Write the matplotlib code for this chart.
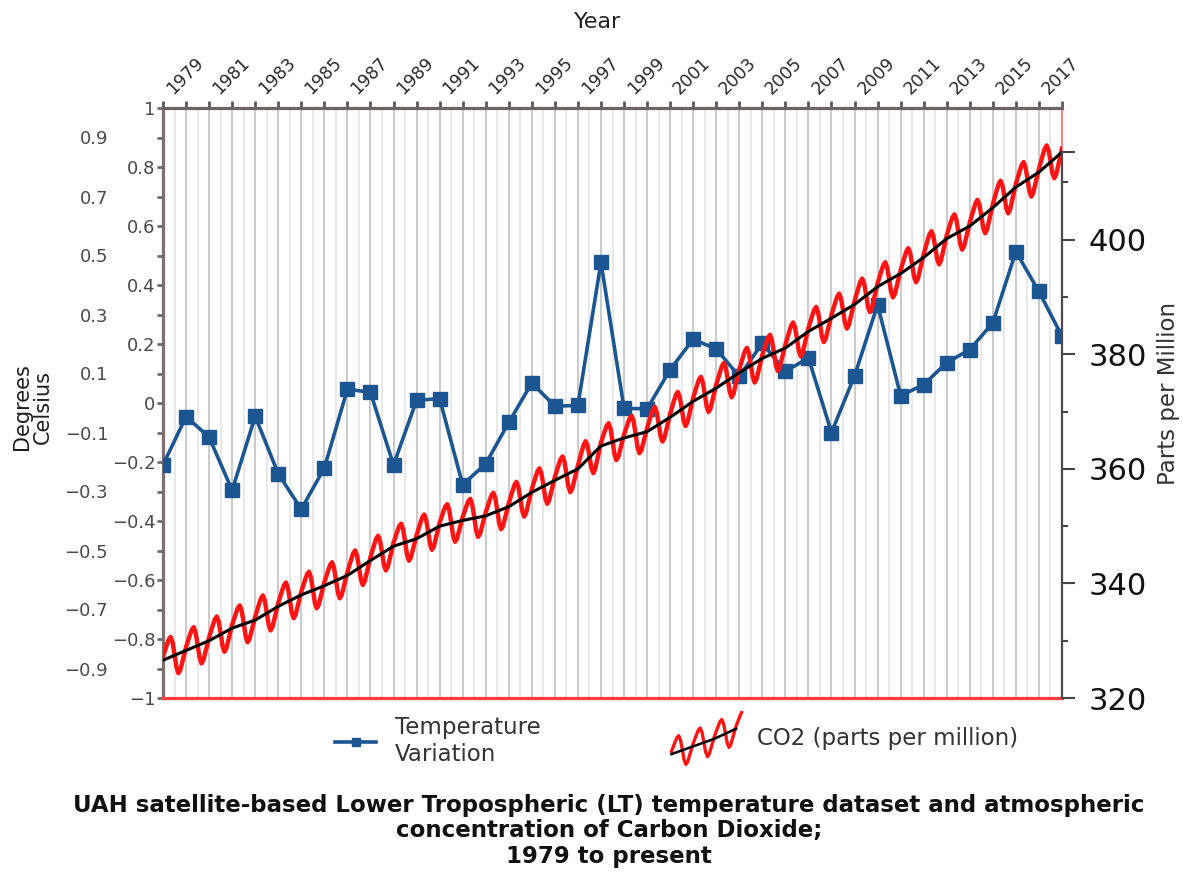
import matplotlib
matplotlib.use('Agg')
import matplotlib.pyplot as plt
import numpy as np

# values
years = np.arange(1979, 2019)
temp_anomaly = [-0.21, -0.046, -0.116, -0.296, -0.045, -0.24, -0.36, -0.22, 0.047, 0.036,
                -0.21, 0.009, 0.015, -0.277, -0.206, -0.066, 0.068, -0.011, -0.008, 0.477,
                -0.018, -0.02, 0.113, 0.216, 0.183, 0.09, 0.203, 0.107, 0.153, -0.10,
                0.092, 0.333, 0.025, 0.062, 0.137, 0.181, 0.272, 0.513, 0.378, 0.226]
co2_trend = [326.6, 328.3, 330.0, 332.2, 333.6, 336.0, 338.0, 339.6, 341.4, 344.0,
             346.5, 347.8, 350.0, 351.0, 351.8, 353.4, 355.9, 358.0, 360.0, 364.0,
             365.4, 366.5, 369.0, 371.8, 374.1, 376.8, 379.3, 381.1, 384.0, 386.3,
             388.7, 391.8, 394.1, 396.9, 400.2, 402.4, 405.6, 409.2, 411.8, 415.3]
# seasonal swing around the trend, Jan..Dec
co2_seasonal = [0.6, 1.5, 2.4, 3.2, 3.5, 2.4, 0.2, -2.2, -3.4, -3.0, -1.8, -0.6]
temp_yticks = [-1, -0.9, -0.8, -0.7, -0.6, -0.5, -0.4, -0.3, -0.2, -0.1, 0,
               0.1, 0.2, 0.3, 0.4, 0.5, 0.6, 0.7, 0.8, 0.9, 1]
ppm_major = [320, 340, 360, 380, 400]
ppm_minor = [330, 350, 370, 390, 410]

month_x = years[0] + np.arange((len(years) - 1) * 12 + 1) / 12
co2_month = np.interp(month_x, years, co2_trend) + np.array(co2_seasonal)[np.arange(len(month_x)) % 12]

W, H = 1183, 876
fig = plt.figure(figsize=(W / 100, H / 100), dpi=100)
ax = fig.add_axes([163 / W, 1 - 698 / H, 899 / W, 590 / H])
ax2 = ax.twinx()

temp_line, = ax.plot(years, temp_anomaly, color='#1b5592', lw=2.6, marker='s', ms=9.5, zorder=3)
ax.set_xlim(years[0], years[-1])
ax.set_ylim(-1, 1)

# year grid + half-year grid
ax.xaxis.tick_top()
ax.set_xticks(years)
ax.set_xticks(years[:-1] + 0.5, minor=True)
ax.grid(which='major', axis='x', color='#c6c6c6', lw=1.3)
ax.grid(which='minor', axis='x', color='#e2e2e2', lw=1.1)
ax.set_xticklabels([str(y) if (y - years[0]) % 2 == 0 else '' for y in years],
                   rotation=45, ha='left', fontsize=12.5, color='#2a2a2a')
ax.tick_params(axis='x', which='major', top=True, bottom=False, length=5, width=2, color='#5a5a5a', pad=2)
ax.tick_params(axis='x', which='minor', top=False, bottom=False)

ax.set_yticks(temp_yticks)
ax.set_yticklabels([f'{v:g}'.replace('-', '\u2212') for v in temp_yticks])
ax.tick_params(axis='y', length=4.5, width=2, color='#6b6b6b', labelsize=13, labelcolor='#4a4a4a')
for i, t in enumerate(ax.yaxis.get_major_ticks()):
    t.set_pad(35 if i % 2 else 1)

ax.spines['left'].set_color('#7d6f6f')
ax.spines['left'].set_linewidth(2.3)
ax.spines['top'].set_color('#6f6464')
ax.spines['top'].set_linewidth(2.3)
ax.spines['bottom'].set_color('#ff3b3b')
ax.spines['bottom'].set_linewidth(2.3)
ax.spines['right'].set_color('#ff7070')
ax.spines['right'].set_linewidth(1.2)

# CO2 on the right axis
ax2.plot(month_x, co2_month, color='#ff1414', lw=3.2)
ax2.plot(years, co2_trend, color='black', lw=2.2)
ax2.set_ylim(320, 423)
for s in ['left', 'top', 'bottom']:
    ax2.spines[s].set_visible(False)
ax2.spines['right'].set_color('#4a4a4a')
ax2.spines['right'].set_linewidth(1.6)
ax2.spines['right'].set_bounds(320, co2_trend[-1])
ax2.set_yticks(ppm_major + [co2_trend[-1]])
ax2.set_yticklabels([str(v) for v in ppm_major] + [''])
ax2.set_yticks(ppm_minor, minor=True)
ax2.tick_params(axis='y', which='major', length=9, width=1.5, color='#444444', labelsize=22,
                labelcolor='#111111', pad=10)
ax2.tick_params(axis='y', which='minor', length=4, width=1.5, color='#444444')

fig.text(598 / W, 1 - 22 / H, 'Year', ha='center', va='center', fontsize=16, color='#222222')
fig.text(32 / W, 1 - 407 / H, 'Degrees\nCelsius', rotation=90, ha='center', va='center',
         fontsize=15, color='#1e1e1e', linespacing=1.05)
fig.text(1168 / W, 1 - 393 / H, 'Parts per Million', rotation=90, ha='center', va='center',
         fontsize=16.5, color='#333333')

# legend
fig.legend([temp_line], ['Temperature\nVariation'], loc='center left',
           bbox_to_anchor=(335 / W, 1 - 741 / H), frameon=False, fontsize=16.5,
           handlelength=1.8, handletextpad=0.8, borderpad=0, borderaxespad=0,
           numpoints=1, markerscale=0.65, labelcolor='#333333')
icon = fig.add_axes([668 / W, 1 - 767 / H, 77 / W, 57 / H])
icon.axis('off')
icon.plot(month_x[:40], co2_month[:40], color='#ff1414', lw=2.4)
icon.plot(years[:4], co2_trend[:4], color='black', lw=1.8)
fig.text(757 / W, 1 - 738 / H, 'CO2 (parts per million)', ha='left', va='center',
         fontsize=16.5, color='#333333')

fig.text(609 / W, 1 - 831 / H,
         'UAH satellite-based Lower Tropospheric (LT) temperature dataset and atmospheric\n'
         'concentration of Carbon Dioxide;\n1979 to present',
         ha='center', va='center', fontsize=16.5, fontweight='bold', color='#111111', linespacing=1.15)

fig.savefig('out.png', dpi=100)
